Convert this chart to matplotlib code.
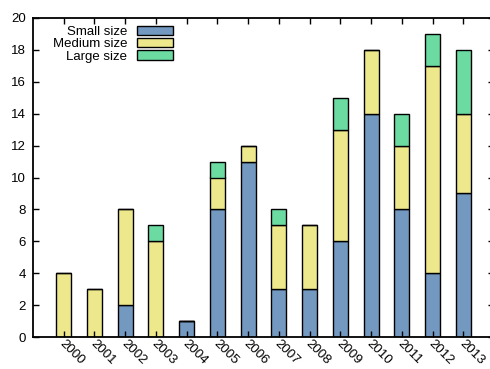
import matplotlib
matplotlib.use("Agg")
import matplotlib.pyplot as plt
import matplotlib.transforms as mtransforms
import numpy as np

years = ["2000", "2001", "2002", "2003", "2004", "2005", "2006", "2007",
         "2008", "2009", "2010", "2011", "2012", "2013"]
small = [0, 0, 2, 0, 1, 8, 11, 3, 3, 6, 14, 8, 4, 9]
medium = [4, 3, 6, 6, 0, 2, 1, 4, 4, 7, 4, 4, 13, 5]
large = [0, 0, 0, 1, 0, 1, 0, 1, 0, 2, 0, 2, 2, 4]
yticks = list(range(0, 21, 2))

plt.rcParams['font.family'] = ['Liberation Sans', 'DejaVu Sans']

fig = plt.figure(figsize=(4.9, 3.69), dpi=100)
L, R, T, B = 33, 494, 18, 337
ax = fig.add_axes([L/490, 1 - B/369, (R-L)/490, (B-T)/369])

x = np.arange(len(years))
small = np.array(small); medium = np.array(medium); large = np.array(large)
w = 0.49
kw = dict(width=w, edgecolor='black', linewidth=1.0)
ax.bar(x, small, color='#7399c0', label='Small size', **kw)
ax.bar(x, medium, bottom=small, color='#eee88c', label='Medium size', **kw)
ax.bar(x, large, bottom=small + medium, color='#6bdba2', label='Large size', **kw)

ax.set_xlim(-1, 14)
ax.set_ylim(0, 20)
ax.set_yticks(yticks)
ax.set_xticks(x)
ax.set_xticklabels(years, rotation=-45, ha='left', va='top', rotation_mode='anchor')
ax.tick_params(axis='both', direction='in', length=4, width=1, labelsize=9.5,
               top=True, right=True, colors='black')
ax.tick_params(axis='x', pad=1)
ax.tick_params(axis='y', pad=5)
offset = mtransforms.ScaledTranslation(2/100, 1/100, fig.dpi_scale_trans)
for lab in ax.get_xticklabels():
    lab.set_transform(lab.get_transform() + offset)
for s in ax.spines.values():
    s.set_linewidth(1.3)

ax_w = R - L
ax_h = B - T
leg = ax.legend(loc='upper right', markerfirst=False, frameon=False, fontsize=9.5,
                handlelength=2.75, handleheight=0.7, handletextpad=0.7,
                labelspacing=0.0, borderaxespad=0.0, borderpad=0.0,
                bbox_to_anchor=((173 - L) / ax_w, (B - 26) / ax_h))
for t in leg.get_texts():
    t.set_ha('right')

fig.savefig('out.png', dpi=100)
